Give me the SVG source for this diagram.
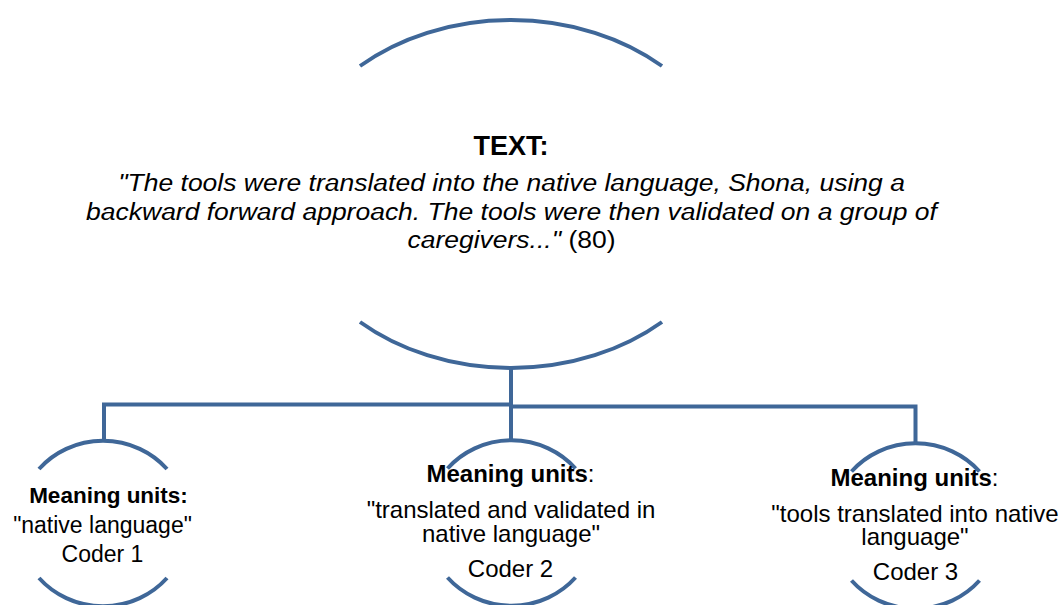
<svg xmlns="http://www.w3.org/2000/svg" width="1060" height="605" viewBox="0 0 1060 605">
  <style>
    .ln { fill: none; stroke: #3F6798; stroke-width: 4; }
    text { font-family: "Liberation Sans", Arial, sans-serif; fill: #000; }
    .title { font-size: 27px; font-weight: bold; text-anchor: middle; }
    .quote { font-size: 24px; font-style: italic; text-anchor: middle; }
    .n { font-size: 24px; text-anchor: middle; }
    .n1 { font-size: 23px; text-anchor: middle; }
    .b { font-weight: bold; }
    .up { font-style: normal; }
  </style>
  <defs>
    <!-- open circle made of a top and a bottom arc -->
    <g id="ring">
      <path class="ln" d="M-64,-54.5 A85,82.5 0 0 1 64,-54.5"/>
      <path class="ln" d="M-64,54.5 A85,82.5 0 0 0 64,54.5"/>
    </g>
  </defs>

  <!-- connectors -->
  <g id="connectors">
    <path class="ln" d="M511,366 V404.5 H104 V441"/>
    <path class="ln" d="M511,404 V440"/>
    <path class="ln" d="M511,406.5 H915.5 V442"/>
  </g>

  <!-- main text node -->
  <g id="node-text">
    <path class="ln" d="M360,66 A223,174 0 0 1 662,66"/>
    <path class="ln" d="M360,322 A223,174 0 0 0 662,322"/>
    <text class="title" x="511" y="155">TEXT:</text>
    <g transform="translate(511.5 0) scale(1.104 1)">
      <text class="quote" x="0" y="191.5">"The tools were translated into the native language, Shona, using a</text>
      <text class="quote" x="0" y="220">backward forward approach. The tools were then validated on a group of</text>
      <text class="quote" x="0" y="248.5">caregivers..."<tspan class="up"> (80)</tspan></text>
    </g>
  </g>

  <!-- coder 1 -->
  <g id="node-coder1">
    <use href="#ring" transform="translate(103 523.5)"/>
    <text class="n1 b" x="108.5" y="503" style="font-size:22.5px">Meaning units:</text>
    <text class="n1" x="102.5" y="533">"native language"</text>
    <text class="n1" x="102.5" y="562">Coder 1</text>
  </g>

  <!-- coder 2 -->
  <g id="node-coder2">
    <use href="#ring" transform="translate(511.5 523)"/>
    <text class="n" x="510.5" y="482"><tspan class="b">Meaning units</tspan>:</text>
    <text class="n" x="511" y="518">"translated and validated in</text>
    <text class="n" x="511" y="542">native language"</text>
    <text class="n" x="510.5" y="577">Coder 2</text>
  </g>

  <!-- coder 3 -->
  <g id="node-coder3">
    <use href="#ring" transform="translate(915.5 526)"/>
    <text class="n" x="914.5" y="486"><tspan class="b">Meaning units</tspan>:</text>
    <text class="n" x="915" y="522">"tools translated into native</text>
    <text class="n" x="915" y="545">language"</text>
    <text class="n" x="915.5" y="580">Coder 3</text>
  </g>
</svg>
